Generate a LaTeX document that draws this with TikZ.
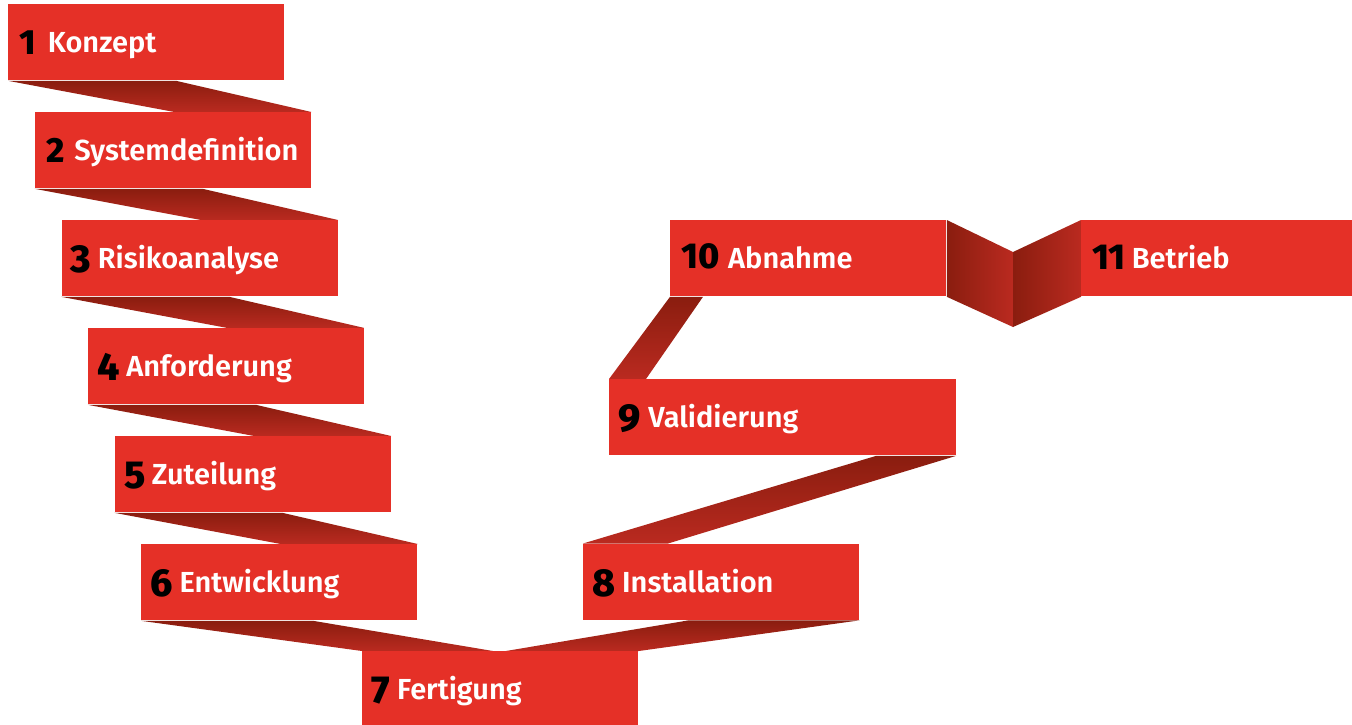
\documentclass[tikz,border=0pt]{standalone}
\usepackage{fontspec}
\setmainfont{Fira Sans}
\IfFontExistsTF{Fira Sans SemiBold}
  {\newfontfamily\wordfont{Fira Sans SemiBold}}
  {\newfontfamily\wordfontbase{Fira Sans}\newcommand\wordfont{\wordfontbase\bfseries}}
\IfFontExistsTF{Fira Sans ExtraBold}
  {\newfontfamily\numfont{Fira Sans ExtraBold}}
  {\IfFontExistsTF{Fira Sans Black}
    {\newfontfamily\numfont{Fira Sans Black}}
    {\newfontfamily\numfontbase{Fira Sans}\newcommand\numfont{\numfontbase\bfseries}}}
\usetikzlibrary{backgrounds}
\definecolor{boxred}{HTML}{E53027}
\definecolor{banddark}{HTML}{8A1D0F}
\definecolor{bandlight}{HTML}{BA2A20}
\tikzset{
  stepbox/.style={fill=boxred, draw=none, inner sep=0pt, anchor=north west,
    minimum width=138pt, minimum height=38pt},
  steplabel/.style={anchor=base west, inner sep=0pt, text=white,
    font=\wordfont\fontsize{14.5pt}{16pt}\selectfont},
  band/.style={top color=banddark, bottom color=bandlight, draw=none},
  fold/.style={left color=banddark, right color=bandlight, draw=none},
}
% #1 = size, #2 = lowering, #3 = number, #4 = gap
\newcommand\stepnum[4]{\raisebox{-#2}{\color{black}\numfont\fontsize{#1}{#1}\selectfont #3}\hspace{#4}}
\begin{document}
\begin{tikzpicture}[x=0.5pt, y=-0.5pt]
\useasboundingbox (0,0) rectangle (1352,724);
% boxes
\node[stepbox] (b1) at (8,4) {};
\node[stepbox] (b2) at (34.6,112) {};
\node[stepbox] (b3) at (61.2,220) {};
\node[stepbox] (b4) at (87.8,328) {};
\node[stepbox] (b5) at (114.4,436) {};
\node[stepbox] (b6) at (141,544) {};
\node[stepbox] (b7) at (362,651) {};
\node[stepbox] (b8) at (583,543.5) {};
\node[stepbox, minimum width=173.25pt] (b9) at (609,379) {};
\node[stepbox] (b10) at (670,220) {};
\node[stepbox] (b11) at (1081,220) {};
% labels
\foreach \b/\n/\t/\s/\d/\g/\o in {b1/1/Konzept/17.5pt/0.8pt/6pt/5.5pt,
  b2/2/Systemdefinition/17.5pt/0.8pt/5pt/5.5pt,
  b3/3/Risikoanalyse/19.5pt/2pt/3.3pt/4.6pt, b4/4/Anforderung/19.5pt/2pt/3.3pt/4.6pt,
  b5/5/Zuteilung/19.5pt/2pt/3.3pt/4.6pt, b6/6/Entwicklung/19.5pt/2pt/3.3pt/4.6pt,
  b7/7/Fertigung/19.5pt/2pt/3.5pt/4.6pt, b8/8/Installation/19.5pt/2pt/3.3pt/4.6pt,
  b9/9/Validierung/19.5pt/2pt/3.8pt/4.6pt, b10/10/Abnahme/18pt/0pt/4.2pt/5.5pt,
  b11/11/Betrieb/18pt/0.5pt/3pt/5.5pt}
  \node[steplabel] (l\b) at ([xshift=\o, yshift=-5.25pt]\b.west) {\stepnum{\s}{\d}{\n}{\g}\t};
% fold points
\coordinate (ft) at (1013,252);
\coordinate (fb) at (1013,327);
\begin{scope}[on background layer]
\foreach \u/\l in {b1/b2, b2/b3, b3/b4, b4/b5, b5/b6}
  \shade[band] (\u.south west) -- ([xshift=84pt]\u.south west)
     -- (\l.north east) -- ([xshift=-68.5pt]\l.north east) -- cycle;
\shade[band] (b6.south west) -- ([xshift=86pt]b6.south west)
   -- ([xshift=65.5pt]b7.north west) -- (b7.north west) -- cycle;
\shade[band] ([xshift=-85.5pt]b8.south east) -- (b8.south east)
   -- (b7.north east) -- ([xshift=-66.5pt]b7.north east) -- cycle;
\shade[band] ([xshift=-40pt]b9.south east) -- (b9.south east)
   -- ([xshift=42.5pt]b8.north west) -- (b8.north west) -- cycle;
\shade[band] (b10.south west) -- ([xshift=16.5pt]b10.south west)
   -- ([xshift=18.5pt]b9.north west) -- (b9.north west) -- cycle;
\shade[fold] (b10.north east) -- (ft) -- (fb) -- (b10.south east) -- cycle;
\shade[fold] (ft) -- (b11.north west) -- (b11.south west) -- (fb) -- cycle;
\end{scope}
\end{tikzpicture}
\end{document}
